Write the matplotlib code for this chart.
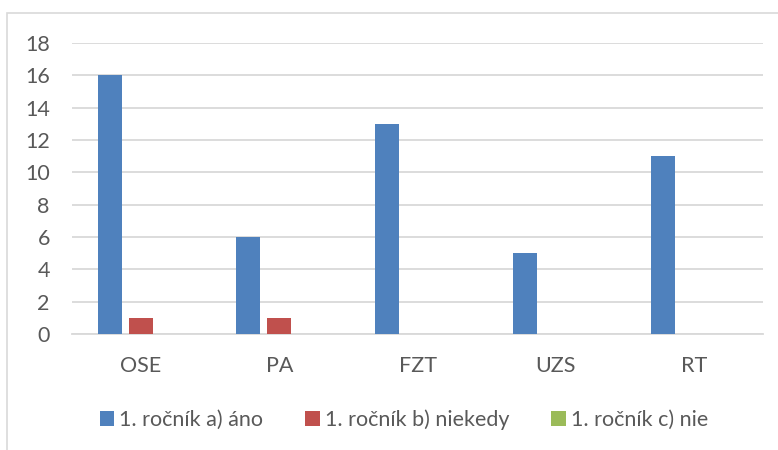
import numpy as np
import matplotlib.pyplot as plt
from matplotlib.patches import Rectangle, Patch

categories = ['OSE', 'PA', 'FZT', 'UZS', 'RT']
ano = [16, 6, 13, 5, 11]
niekedy = [1, 1, 0, 0, 0]
nie = [0, 0, 0, 0, 0]
series_names = ['1. ročník a) áno', '1. ročník b) niekedy', '1. ročník c) nie']
colors = ['#4F81BD', '#C0504D', '#9BBB59']
yticks = [0, 2, 4, 6, 8, 10, 12, 14, 16, 18]

plt.rcParams['font.family'] = ['Lato', 'DejaVu Sans']
txt = '#595959'

fig = plt.figure(figsize=(7.78, 4.5), dpi=100)
fig.patches.append(Rectangle((7/778, -0.1), 1.0, 1 - 13/450 + 0.1, transform=fig.transFigure,
                             fill=False, edgecolor='#d9d9d9', lw=1.2))
ax = fig.add_axes([72/778, 1 - 334/450, (763 - 72)/778, (334 - 43)/450])

x = np.arange(len(categories))
w = 0.174
off = 0.224
for i, vals in enumerate([ano, niekedy, nie]):
    ax.bar(x + (i - 1)*off, vals, w, color=colors[i], zorder=3)

ax.set_xlim(-0.5, len(categories) - 0.5)
ax.set_ylim(0, 18)
ax.set_yticks(yticks)
ax.set_xticks(x)
ax.set_xticklabels(categories)
ax.tick_params(axis='both', length=0, labelsize=15.5, colors=txt)
ax.tick_params(axis='y', pad=16)
ax.tick_params(axis='x', pad=16)
ax.grid(axis='y', color='#d9d9d9', lw=1.3, zorder=0)
for s in ['top', 'right', 'left']:
    ax.spines[s].set_visible(False)
ax.spines['bottom'].set_color('#d9d9d9')
ax.spines['bottom'].set_linewidth(1.3)

handles = [Patch(facecolor=c, edgecolor='none') for c in colors]
fig.legend(handles, series_names, loc='center', bbox_to_anchor=(404/778, 1 - 420/450), ncol=3,
           frameon=False, fontsize=15.5, labelcolor=txt, handlelength=0.66, handleheight=0.66,
           handletextpad=0.24, columnspacing=1.95)

fig.savefig('out.png', dpi=100)
